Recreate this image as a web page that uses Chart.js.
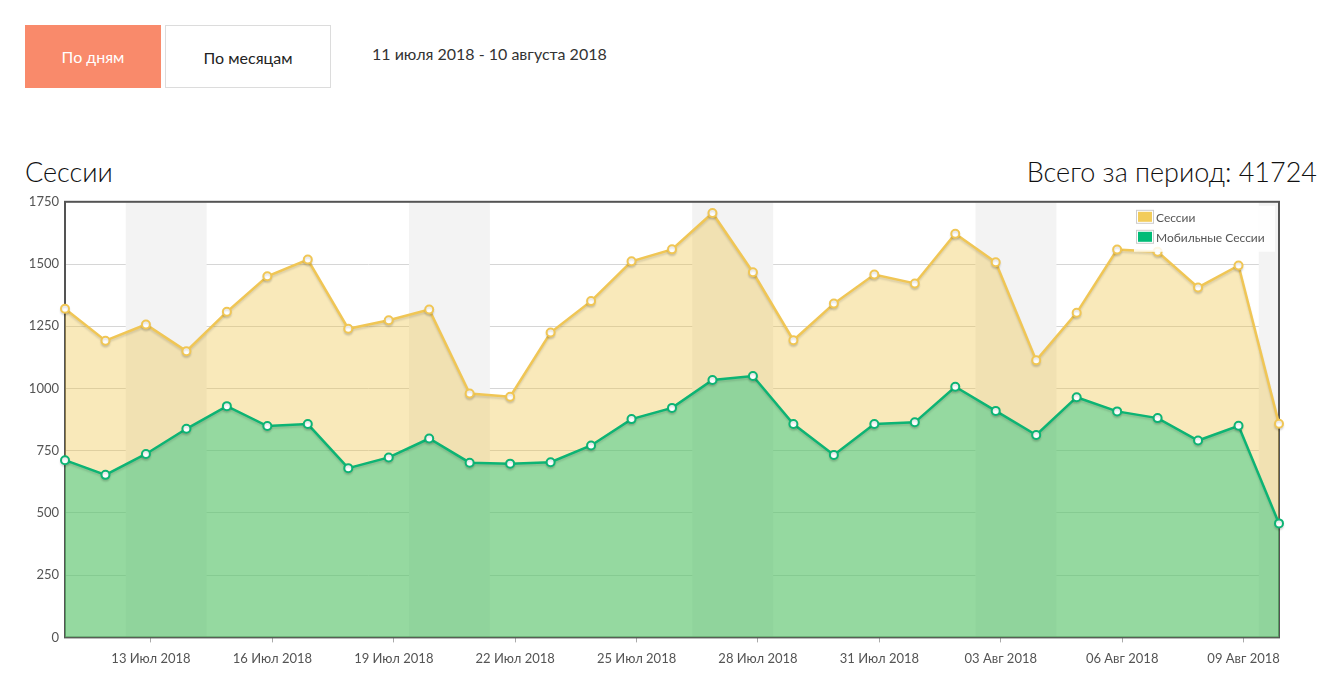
<!DOCTYPE html>
<html lang="ru">
<head>
<meta charset="utf-8">
<title>Сессии</title>
<script src="https://cdn.jsdelivr.net/npm/chart.js@4.4.1/dist/chart.umd.min.js"></script>
<style>
    body { margin: 0; background: #fff; font-family: Lato, 'Open Sans', sans-serif; color: #222; }
    .page { position: relative; width: 1344px; height: 689px; }
    .btn { position: absolute; top: 25px; height: 63px; line-height: 63px; text-align: center; font-size: 16px; box-sizing: border-box; }
    .btn-day { left: 25px; width: 136px; background: #f98a6b; color: #fff; }
    .btn-month { left: 165px; width: 166px; border: 1px solid #dcdcdc; color: #222; }
    .period { position: absolute; left: 372px; top: 44px; font-size: 16px; color: #333; }
    .title { position: absolute; top: 155px; font-size: 27px; font-weight: 300; color: #111; }
    .title-left { left: 25px; }
    .title-right { right: 27px; }
    .chart-box { position: absolute; left: 25px; top: 188px; width: 1260px; height: 488px; }
</style>
</head>
<body>
<div class="page">
    <div class="btn btn-day">По дням</div>
    <div class="btn btn-month">По месяцам</div>
    <div class="period">11 июля 2018 - 10 августа 2018</div>
    <div class="title title-left">Сессии</div>
    <div class="title title-right">Всего за период: 41724</div>
    <div class="chart-box"><canvas id="sessionsChart"></canvas></div>
</div>
<script>
const dates = [
    '2018-07-11', '2018-07-12', '2018-07-13', '2018-07-14', '2018-07-15', '2018-07-16',
    '2018-07-17', '2018-07-18', '2018-07-19', '2018-07-20', '2018-07-21', '2018-07-22',
    '2018-07-23', '2018-07-24', '2018-07-25', '2018-07-26', '2018-07-27', '2018-07-28',
    '2018-07-29', '2018-07-30', '2018-07-31', '2018-08-01', '2018-08-02', '2018-08-03',
    '2018-08-04', '2018-08-05', '2018-08-06', '2018-08-07', '2018-08-08', '2018-08-09',
    '2018-08-10'
];

const sessions = [
    1320, 1192, 1257, 1150, 1308, 1451, 1518, 1240, 1274, 1317,
    980, 967, 1225, 1351, 1511, 1559, 1705, 1467, 1194, 1341,
    1458, 1422, 1622, 1507, 1113, 1304, 1558, 1549, 1406, 1494,
    858
];

const mobileSessions = [
    712, 653, 737, 838, 929, 849, 857, 680, 723, 799,
    702, 698, 704, 771, 877, 922, 1034, 1050, 857, 733,
    857, 864, 1007, 910, 813, 965, 908, 881, 791, 850,
    458
];

const tickDates = ['2018-07-13', '2018-07-16', '2018-07-19', '2018-07-22', '2018-07-25',
    '2018-07-28', '2018-07-31', '2018-08-03', '2018-08-06', '2018-08-09'];
const tickLabels = ['13 Июл 2018', '16 Июл 2018', '19 Июл 2018', '22 Июл 2018', '25 Июл 2018',
    '28 Июл 2018', '31 Июл 2018', '03 Авг 2018', '06 Авг 2018', '09 Авг 2018'];

const yTicks = [0, 250, 500, 750, 1000, 1250, 1500, 1750];

// ticks sit on UTC midnight, points on Moscow midnight (3 h earlier)
const tzShift = 3 / 24;
const tickPos = tickDates.map(d => dates.indexOf(d) + tzShift);

const toPoints = arr => arr.map((v, i) => ({ x: i, y: v }));

const axisColor = '#545454';
const fontFamily = 'Lato, "Open Sans", sans-serif';

const weekendBands = {
    id: 'weekendBands',
    beforeDatasetsDraw(chart) {
        const { ctx, chartArea, scales: { x } } = chart;
        ctx.save();
        ctx.beginPath();
        ctx.rect(chartArea.left, chartArea.top, chartArea.right - chartArea.left, chartArea.bottom - chartArea.top);
        ctx.clip();
        ctx.fillStyle = '#f3f3f3';
        for (let from = 1.5; from < x.max; from += 7) {
            const x1 = x.getPixelForValue(from);
            const x2 = x.getPixelForValue(from + 2);
            ctx.fillRect(x1, chartArea.top, x2 - x1, chartArea.bottom - chartArea.top);
        }
        ctx.restore();
    }
};

// soft shadow under the lines, like the original flot chart
const lineShadow = {
    id: 'lineShadow',
    beforeDatasetDraw(chart) {
        const ctx = chart.ctx;
        ctx.save();
        ctx.shadowColor = 'rgba(0, 0, 0, 0.12)';
        ctx.shadowBlur = 2;
        ctx.shadowOffsetY = 2;
    },
    afterDatasetDraw(chart) {
        chart.ctx.restore();
    }
};

const frameAndLegend = {
    id: 'frameAndLegend',
    beforeDatasetsDraw(chart) {
        const { ctx, chartArea } = chart;
        ctx.save();
        ctx.strokeStyle = axisColor;
        ctx.lineWidth = 2;
        ctx.strokeRect(chartArea.left, chartArea.top, chartArea.right - chartArea.left, chartArea.bottom - chartArea.top);
        ctx.restore();
    },
    afterDraw(chart) {
        const { ctx, chartArea } = chart;
        ctx.save();
        // legend box in the top right corner
        const boxRight = chartArea.right - 4;
        const boxLeft = boxRight - 141;
        const top = chartArea.top + 4;
        ctx.fillStyle = 'rgba(255,255,255,0.85)';
        ctx.fillRect(boxLeft, top, boxRight - boxLeft, 46);
        ctx.font = '12px ' + fontFamily;
        ctx.textBaseline = 'middle';
        chart.data.datasets.forEach((ds, i) => {
            const y = top + 4 + i * 20;
            ctx.fillStyle = '#fff';
            ctx.fillRect(boxLeft + 2, y, 18, 14);
            ctx.strokeStyle = '#cccccc';
            ctx.lineWidth = 1;
            ctx.strokeRect(boxLeft + 2.5, y + 0.5, 17, 13);
            ctx.fillStyle = ds.legendColor;
            ctx.fillRect(boxLeft + 4, y + 2, 14, 10);
            ctx.fillStyle = axisColor;
            ctx.fillText(ds.label, boxLeft + 22, y + 8);
        });
        ctx.restore();
    }
};

document.addEventListener('DOMContentLoaded', function() {
    const ctx = document.getElementById('sessionsChart').getContext('2d');

    new Chart(ctx, {
        type: 'line',
        data: {
            datasets: [{
                label: 'Сессии',
                data: toPoints(sessions),
                borderColor: '#f0c655',
                backgroundColor: 'rgba(237, 194, 64, 0.36)',
                legendColor: '#f2cc5a',
                fill: 'origin',
                clip: 8,
                borderWidth: 2.5,
                pointRadius: 4,
                pointBorderWidth: 2,
                pointBackgroundColor: '#fff',
                pointBorderColor: '#f0c655',
                tension: 0,
                order: 2
            }, {
                label: 'Мобильные Сессии',
                data: toPoints(mobileSessions),
                borderColor: '#0db474',
                backgroundColor: 'rgba(27, 198, 128, 0.45)',
                legendColor: '#00bb77',
                fill: 'origin',
                clip: 8,
                borderWidth: 2.5,
                pointRadius: 4,
                pointBorderWidth: 2,
                pointBackgroundColor: '#fff',
                pointBorderColor: '#0db474',
                tension: 0,
                order: 1
            }]
        },
        options: {
            responsive: true,
            maintainAspectRatio: false,
            animation: false,
            layout: { padding: { top: 0, right: 5, left: 0, bottom: 0 } },
            scales: {
                x: {
                    type: 'linear',
                    min: 0,
                    max: dates.length - 1,
                    afterBuildTicks(scale) {
                        scale.ticks = tickPos.map(v => ({ value: v }));
                    },
                    afterFit(scale) {
                        scale.paddingLeft = 0;
                        scale.paddingRight = 0;
                    },
                    ticks: {
                        autoSkip: false,
                        maxRotation: 0,
                        padding: 9,
                        color: axisColor,
                        font: { family: fontFamily, size: 13 },
                        callback: (v, i) => tickLabels[i]
                    },
                    grid: { drawOnChartArea: false, tickLength: 5, color: '#aaaaaa' },
                    border: { display: false }
                },
                y: {
                    min: 0,
                    max: 1750,
                    afterBuildTicks(scale) {
                        scale.ticks = yTicks.map(v => ({ value: v }));
                    },
                    afterFit(scale) { scale.width = 40; },
                    ticks: {
                        padding: 6,
                        color: axisColor,
                        font: { family: fontFamily, size: 13 },
                        callback: v => String(v)
                    },
                    grid: { color: '#d6d6d6', drawTicks: false },
                    border: { display: false }
                }
            },
            plugins: {
                legend: { display: false },
                tooltip: { enabled: false }
            }
        },
        plugins: [weekendBands, lineShadow, frameAndLegend]
    });
});
</script>
</body>
</html>
